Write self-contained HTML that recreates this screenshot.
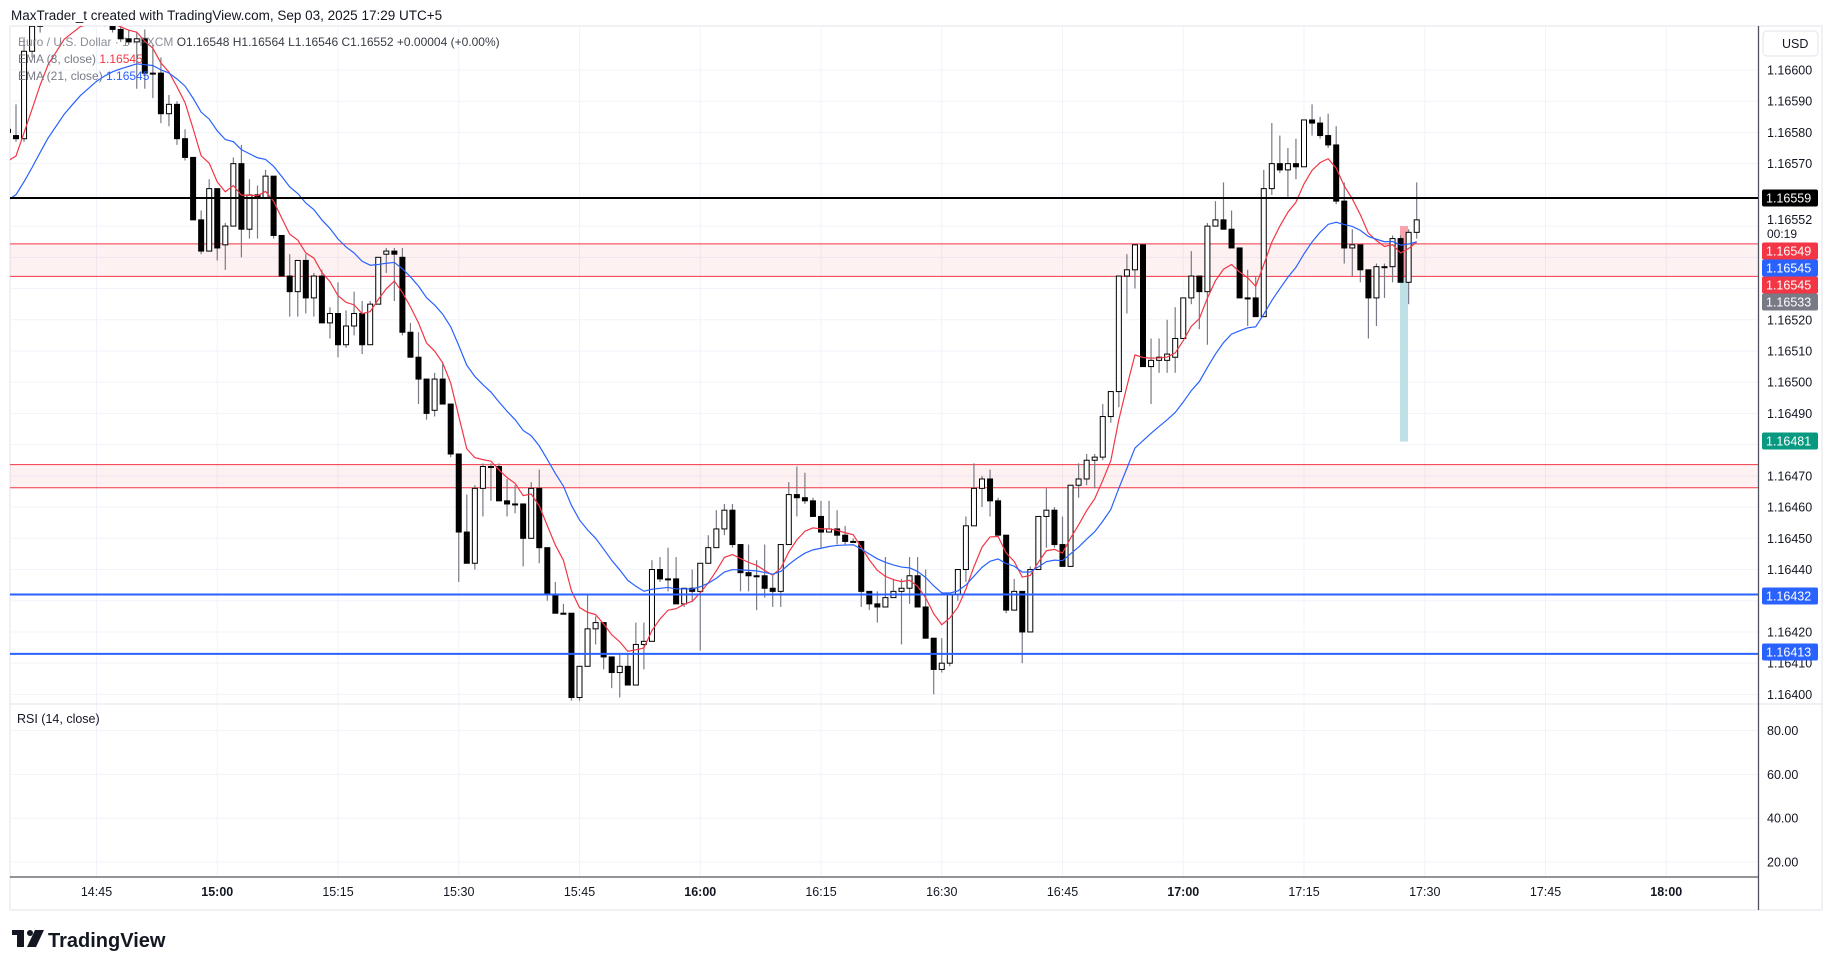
<!DOCTYPE html>
<html><head><meta charset="utf-8"><title>EURUSD 1m</title>
<style>
html,body{margin:0;padding:0;background:#fff;}
svg{display:block;font-family:"Liberation Sans",sans-serif;}
</style></head>
<body>
<svg id="chart" width="1830" height="964" viewBox="0 0 1830 964" xmlns="http://www.w3.org/2000/svg">
  <defs><clipPath id="plotclip"><rect x="10" y="26" width="1748" height="678"/></clipPath></defs>
  <rect x="0" y="0" width="1830" height="964" fill="#ffffff"/>
  <rect x="10" y="26" width="1812" height="884" fill="none" stroke="#e0e3eb" stroke-width="1"/>
  <text x="11" y="20" font-size="13.5" fill="#131722">MaxTrader_t created with TradingView.com, Sep 03, 2025 17:29 UTC+5</text>
  <g id="grid"></g>
  <g id="zones" clip-path="url(#plotclip)"></g>
  <g id="candles" clip-path="url(#plotclip)"></g>
  <g id="emas" clip-path="url(#plotclip)"></g>
  <g id="levels"></g>
  <g id="axis"></g>
  <g id="taxis"></g>
  <g font-size="12">
    <text x="18" y="46" fill="#131722" opacity="0.85"><tspan fill="#787b86">Euro / U.S. Dollar · 1 · FXCM</tspan>  O1.16548  H1.16564  L1.16546  C1.16552  +0.00004 (+0.00%)</text>
    <text x="18" y="63" fill="#787b86">EMA (8, close) <tspan fill="#f23645">1.16545</tspan></text>
    <text x="18" y="80" fill="#787b86">EMA (21, close) <tspan fill="#2962ff">1.16545</tspan></text>
  </g>
  <text x="17" y="723" font-size="12.5" fill="#131722">RSI (14, close)</text>
  <g>
    <rect x="12" y="930" width="12" height="5" fill="#131722"/>
    <rect x="17" y="930" width="7" height="17" fill="#131722"/>
    <circle cx="30" cy="933" r="3" fill="#131722"/>
    <polygon points="35,930 44,930 36,947 27,947" fill="#131722"/>
    <text x="48" y="947" font-size="20" font-weight="bold" fill="#131722">TradingView</text>
  </g>
</svg>
<script>
// Prices in units of 0.00001 offset from 1.16000 (e.g. 580 => 1.16580)
const opens=[580,579,578,606,614,622,625,620,624,619,621,617,619,615,613,610,609,610,599,599,586,589,578,572,552,542,562,544,550,570,549,560,559,566,547,534,529,539,527,534,519,522,512,518,522,512,525,541,542,540,516,508,501,491,501,493,477,452,442,466,473,473,462,461,461,450,466,447,432,426,426,399,409,421,423,412,407,409,403,416,417,440,437,437,429,434,433,442,447,453,459,448,439,438,438,434,433,448,464,463,462,457,452,453,451,449,449,433,429,428,431,433,434,438,428,418,408,410,432,440,454,466,469,462,451,427,433,420,440,457,459,448,441,467,469,475,476,489,497,534,536,544,505,507,507,508,514,527,534,529,550,552,549,543,527,527,521,562,570,568,570,569,584,583,579,576,558,543,544,536,527,537,537,546,532,548];
const closes=[581,578,606,614,622,625,620,624,619,621,617,619,615,613,610,609,610,599,599,586,589,578,572,552,542,562,543,550,570,549,560,559,566,547,534,529,539,527,534,519,522,512,518,522,512,525,540,542,541,516,508,501,490,501,493,477,452,442,466,473,473,462,461,461,450,466,447,432,426,426,399,409,421,423,412,407,409,403,416,417,440,437,437,429,434,433,442,447,453,459,448,439,438,438,434,433,448,464,463,462,457,452,453,451,449,449,433,429,428,431,433,434,438,428,418,408,410,432,440,454,466,469,462,451,427,433,420,440,457,459,448,441,467,469,475,476,489,497,534,536,544,505,507,508,509,514,527,534,529,550,552,549,543,527,527,521,562,570,568,570,569,584,583,579,576,558,543,544,536,527,537,537,546,532,548,552];
const highs=[583,589,610,618,626,628,627,626,625,623,622,621,620,617,616,613,612,613,608,604,592,590,581,572,555,565,562,551,572,576,565,563,568,566,547,541,539,541,535,536,524,532,523,529,526,526,540,543,543,543,519,516,501,503,506,493,477,464,467,474,474,474,469,467,461,468,472,447,436,429,426,409,432,425,423,412,413,413,423,423,443,444,447,444,434,440,442,451,459,461,461,448,448,443,448,438,448,468,473,471,463,462,462,459,454,450,449,433,433,444,437,437,444,444,440,418,418,432,440,457,474,470,472,463,451,437,433,441,457,466,460,457,467,474,477,477,493,497,534,541,544,544,514,514,520,524,527,542,534,551,558,564,555,543,536,534,568,583,579,575,578,584,589,585,586,582,564,549,544,536,538,538,547,547,549,564];
const lows=[579,577,577,604,612,620,618,618,617,617,615,615,614,612,609,608,594,594,591,583,582,576,571,552,541,542,539,536,550,540,546,546,559,546,534,521,521,522,521,519,514,508,511,515,509,512,525,535,526,515,508,493,488,489,493,476,436,442,440,457,462,462,457,458,441,450,442,430,426,426,398,398,409,416,408,402,399,403,403,408,417,436,433,429,428,430,414,442,447,451,447,433,433,427,431,428,428,448,457,461,457,447,452,448,448,449,428,427,423,428,431,416,429,428,418,400,407,409,430,436,454,460,457,451,426,427,410,420,440,447,447,441,441,463,467,466,475,487,492,522,530,505,493,503,503,503,514,525,517,512,550,549,543,527,518,521,521,560,567,559,565,569,579,578,575,557,538,534,532,514,518,527,532,532,525,546];
// price axis tick labels (x 0.00001 offset)
const priceTicks=[600,590,580,570,520,510,500,490,470,460,450,440,420,410,400];
const rsiTicks=["80.00","60.00","40.00","20.00"];
const rsiTickValues=[80,60,40,20];
const timeLabels=["14:45","15:00","15:15","15:30","15:45","16:00","16:15","16:30","16:45","17:00","17:15","17:30","17:45","18:00"];
const timeMinutes=[885,900,915,930,945,960,975,990,1005,1020,1035,1050,1065,1080];
const lastMinute=1049; // 17:29

const NS="http://www.w3.org/2000/svg";
function el(tag,attrs,parent){const e=document.createElementNS(NS,tag);for(const k in attrs)e.setAttribute(k,attrs[k]);parent.appendChild(e);return e;}
function yP(p){return 70+(600-p)/10*31.22;}
function xI(i){return 1416.7-(opens.length-1-i)*8.05;}
function xT(m){return 1416.7+(m-lastMinute)*8.05;}
function yR(v){return 730.6+(80-v)*2.19;}
function fmt(p){return (1.16+p/100000).toFixed(5);}

const grid=document.getElementById('grid');
for(let p=400;p<=600;p+=10){
  const g=el('line',{x1:10,x2:1758,y1:yP(p),y2:yP(p),stroke:'#f0f3fa','stroke-width':1},grid);
  
  
}
for(let m=870;m<=1095;m+=15){
  const x=xT(m); if(x<10||x>1758)continue;
  const g=el('line',{x1:x,x2:x,y1:26,y2:877,stroke:'#f0f3fa','stroke-width':1},grid);
  
  
}
for(let k=0;k<rsiTickValues.length;k++){
  const g=el('line',{x1:10,x2:1758,y1:yR(rsiTickValues[k]),y2:yR(rsiTickValues[k]),stroke:'#f0f3fa','stroke-width':1},grid);
  
  
}
const sep=el('line',{x1:10,x2:1822,y1:704,y2:704,stroke:'#e0e3eb','stroke-width':1},grid);


const tsep=el('line',{x1:10,x2:1758,y1:877,y2:877,stroke:'#50535e','stroke-width':1.3},grid);


const asep=el('line',{x1:1758.5,x2:1758.5,y1:26,y2:910,stroke:'#50535e','stroke-width':1.3},grid);



// zones
const zones=document.getElementById('zones');
const zoneTop=[544.3,473.6], zoneBot=[533.9,466.2];
for(let k=0;k<zoneTop.length;k++){
  const r=el('rect',{x:10,y:yP(zoneTop[k]),width:1748,height:yP(zoneBot[k])-yP(zoneTop[k]),fill:'rgba(242,54,69,0.07)'},zones);
  
  
  [zoneTop[k],zoneBot[k]].forEach(p=>{
    const l=el('line',{x1:10,x2:1758,y1:yP(p),y2:yP(p),stroke:'#f23645','stroke-width':1},zones);
    
    
  });
}
// position marker
const pm1=el('rect',{x:1400,y:yP(550),width:8,height:yP(533.5)-yP(550),fill:'rgba(242,54,69,0.45)'},zones);


const pm2=el('rect',{x:1400,y:yP(533.5),width:8,height:yP(481)-yP(533.5),fill:'#bfe0e6'},zones);



// candles
const cg=document.getElementById('candles');
for(let i=0;i<opens.length;i++){
  const x=xI(i), o=opens[i], c=closes[i];
  const w=el('line',{x1:x,x2:x,y1:yP(highs[i]),y2:yP(lows[i]),stroke:'#787b86','stroke-width':1.2},cg);
  
  
  const top=yP(Math.max(o,c)), bot=yP(Math.min(o,c));
  const up=c>=o;
  const b=el('rect',{x:x-2.5,y:top,width:5,height:Math.max(bot-top,1),fill:up?'#ffffff':'#000000',stroke:'#000000','stroke-width':1},cg);
  
  
}
// EMAs
function ema(period,seed){const a=2/(period+1);let v=seed;return closes.map(c=>{v=v+a*(c-v);return v;});}
const ema8=ema(8,568), ema21=ema(21,556);
const eg=document.getElementById('emas');
[[ema8,'#f23645','ema-8-line'],[ema21,'#2962ff','ema-21-line']].forEach(([arr,col,nm])=>{
  const pl=el('polyline',{points:arr.map((v,i)=>xI(i)+','+yP(v)).join(' '),fill:'none',stroke:col,'stroke-width':1.2},eg);
  
  
});
// levels
const lv=document.getElementById('levels');
const levelPrices=[559,432,413], levelColors=['#000000','#2962ff','#2962ff'];
for(let k=0;k<levelPrices.length;k++){
  const l=el('line',{x1:10,x2:1758,y1:yP(levelPrices[k]),y2:yP(levelPrices[k]),stroke:levelColors[k],'stroke-width':2},lv);
  
  
}
// price axis
const ax=document.getElementById('axis');
const usd=el('rect',{x:1763,y:31,width:55,height:25,rx:4,fill:'#fff',stroke:'#e0e3eb'},ax);


const ut=el('text',{x:1782,y:48,'font-size':12.5,fill:'#131722'},ax); ut.textContent='USD';


priceTicks.forEach(p=>{
  const t=el('text',{x:1767,y:yP(p)+4.5,'font-size':12.5,fill:'#131722'},ax); t.textContent=fmt(p);
  
  
});
const cp=el('text',{x:1767,y:224,'font-size':12.5,fill:'#131722'},ax); cp.textContent=fmt(closes[closes.length-1]);


const cd=el('text',{x:1767,y:238,'font-size':12,fill:'#131722'},ax); cd.textContent='00:19';


const boxPrices=[559,549,545,545,533,481,432,413];
const boxY=[198,251,268,285,302,441,596,652];
const boxColors=['#000000','#f23645','#2962ff','#f23645','#787b86','#089981','#2962ff','#2962ff'];
for(let k=0;k<boxPrices.length;k++){
  const r=el('rect',{x:1762,y:boxY[k]-8.5,width:56,height:17,rx:2,fill:boxColors[k]},ax);
  
  
  const t=el('text',{x:1766,y:boxY[k]+4.5,'font-size':12.5,fill:'#ffffff'},ax); t.textContent=fmt(boxPrices[k]);
  
  
}
for(let k=0;k<rsiTicks.length;k++){
  const t=el('text',{x:1767,y:yR(rsiTickValues[k])+4.5,'font-size':12.5,fill:'#131722'},ax); t.textContent=rsiTicks[k];
  
  
}
// time axis
const ta=document.getElementById('taxis');
for(let k=0;k<timeLabels.length;k++){
  const bold=timeMinutes[k]%60===0;
  const t=el('text',{x:xT(timeMinutes[k]),y:896,'font-size':12.5,fill:'#131722','text-anchor':'middle','font-weight':bold?'bold':'normal'},ta);
  t.textContent=timeLabels[k];
  
  
}
</script>
</body></html>
